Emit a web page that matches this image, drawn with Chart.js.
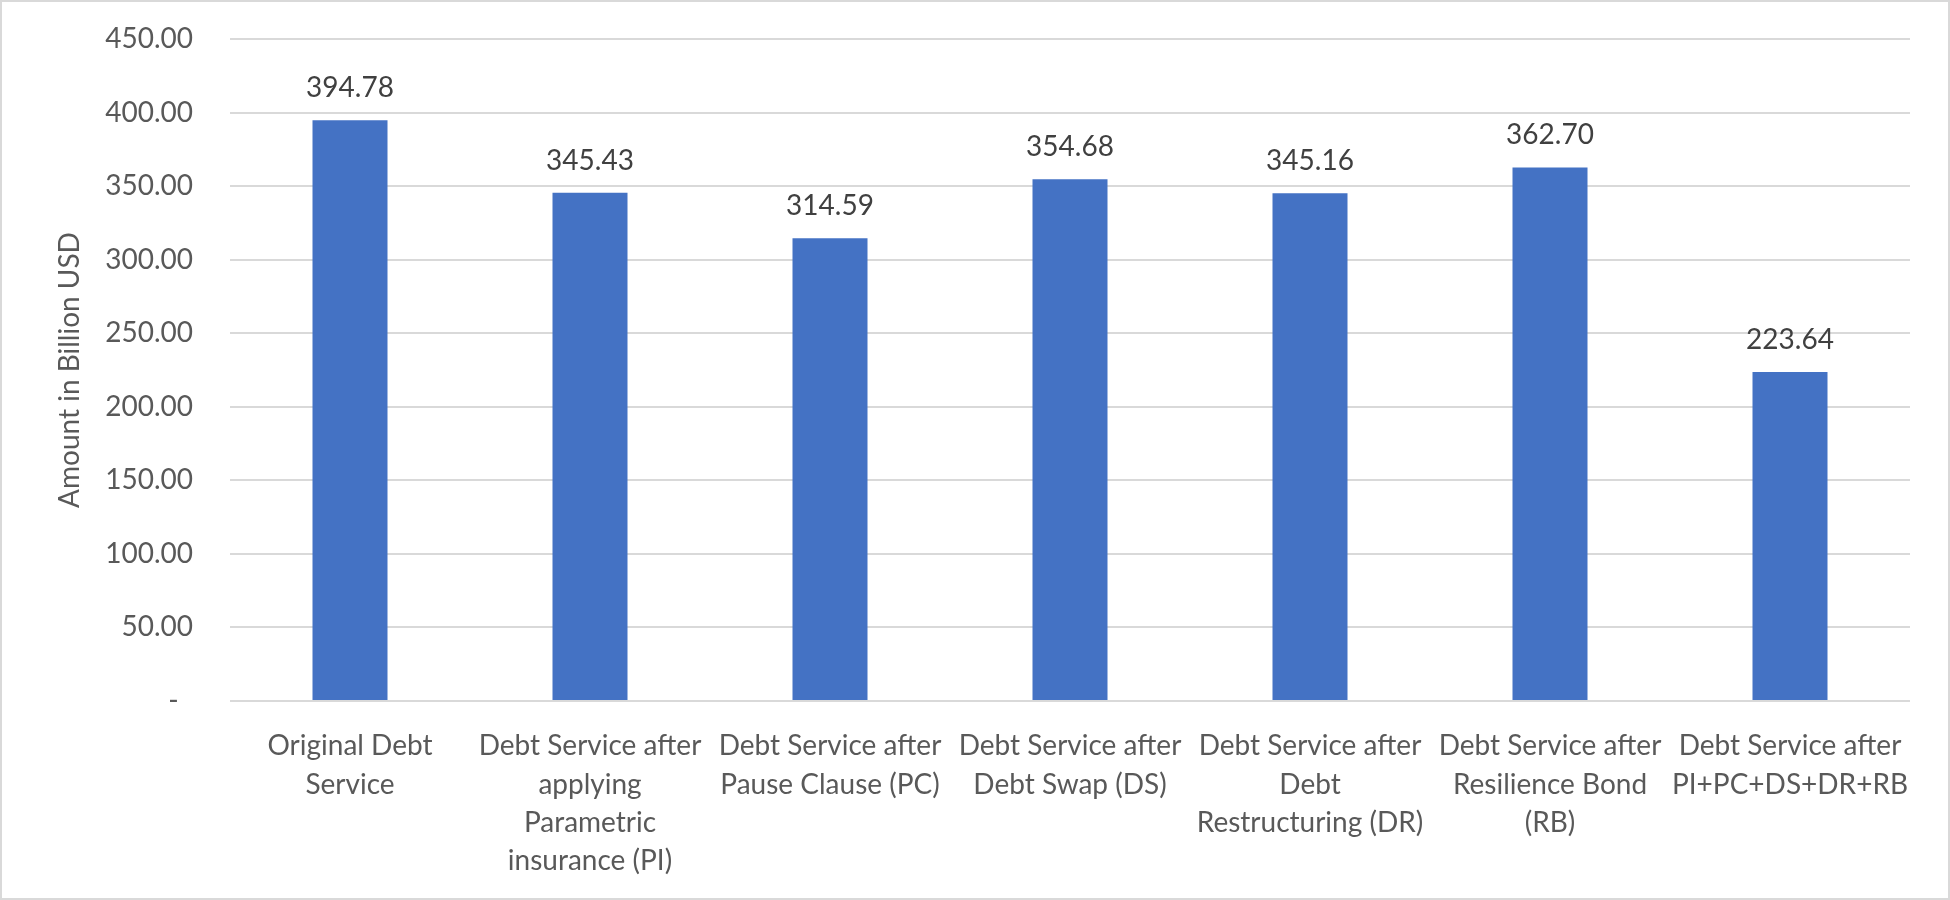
<!DOCTYPE html>
<html>
<head>
<meta charset="utf-8">
<script src="https://cdn.jsdelivr.net/npm/chart.js@4"></script>
<style>
  html, body { margin: 0; padding: 0; background: #fff; }
  .frame {
    position: relative;
    width: 1950px;
    height: 900px;
    box-sizing: border-box;
    border: 2px solid #d9d9d9;
    overflow: hidden;
  }
  .frame canvas { position: absolute; left: -2px; top: -2px; }
</style>
</head>
<body>
<div class="frame">
  <canvas id="barChart" width="1950" height="900"></canvas>
</div>
<script>
// debt service scenarios, billion USD
var categories = [
  ['Original Debt', 'Service'],
  ['Debt Service after', 'applying', 'Parametric', 'insurance (PI)'],
  ['Debt Service after', 'Pause Clause (PC)'],
  ['Debt Service after', 'Debt Swap (DS)'],
  ['Debt Service after', 'Debt', 'Restructuring (DR)'],
  ['Debt Service after', 'Resilience Bond', '(RB)'],
  ['Debt Service after', 'PI+PC+DS+DR+RB']
];
var amounts = [394.78, 345.43, 314.59, 354.68, 345.16, 362.70, 223.64];
var yTicks = [0, 50, 100, 150, 200, 250, 300, 350, 400, 450];

var fontFamily = 'Lato, "Open Sans", sans-serif';
Chart.defaults.font.family = fontFamily;
Chart.defaults.color = '#595959';

// value labels above each bar
var barValues = {
  id: 'barValues',
  afterDatasetsDraw: function(chart) {
    var ctx = chart.ctx;
    var meta = chart.getDatasetMeta(0);
    ctx.save();
    ctx.font = '28px ' + fontFamily;
    ctx.fillStyle = '#404040';
    ctx.textAlign = 'center';
    ctx.textBaseline = 'alphabetic';
    meta.data.forEach(function(bar, i) {
      ctx.fillText(amounts[i].toFixed(2), bar.x, bar.y - 23);
    });
    ctx.restore();
  }
};

var ctx = document.getElementById('barChart').getContext('2d');
var debtChart = new Chart(ctx, {
  type: 'bar',
  data: {
    labels: categories,
    datasets: [
      {
        data: amounts,
        backgroundColor: '#4472C4',
        borderWidth: 0,
        barPercentage: 0.3125,
        categoryPercentage: 1
      }
    ]
  },
  options: {
    responsive: false,
    animation: false,
    layout: { padding: { left: 40, right: 40, top: 39, bottom: 0 } },
    plugins: {
      legend: { display: false },
      tooltip: { enabled: false }
    },
    scales: {
      x: {
        grid: { display: false },
        border: { display: false },
        ticks: {
          color: '#595959',
          font: { size: 28, lineHeight: 1.37 },
          padding: 18,
          maxRotation: 0,
          autoSkip: false
        },
        afterFit: function(scale) { scale.height = 199; }
      },
      y: {
        min: 0,
        max: 450,
        afterBuildTicks: function(scale) {
          scale.ticks = yTicks.map(function(v) { return { value: v }; });
        },
        // invisible tick marks keep the labels clear of the gridlines
        grid: { color: '#d9d9d9', lineWidth: 2, drawTicks: true, tickLength: 37, tickColor: 'rgba(0,0,0,0)' },
        border: { display: false },
        ticks: {
          color: '#595959',
          font: { size: 28 },
          padding: 0,
          callback: function(v) { return v === 0 ? '-  ' : v.toFixed(2); }
        },
        title: {
          display: true,
          text: 'Amount in Billion USD',
          color: '#595959',
          font: { size: 28 },
          padding: { top: 13, bottom: 0 }
        },
        afterFit: function(scale) { scale.width = 190; }
      }
    }
  },
  plugins: [barValues]
});
</script>
</body>
</html>
